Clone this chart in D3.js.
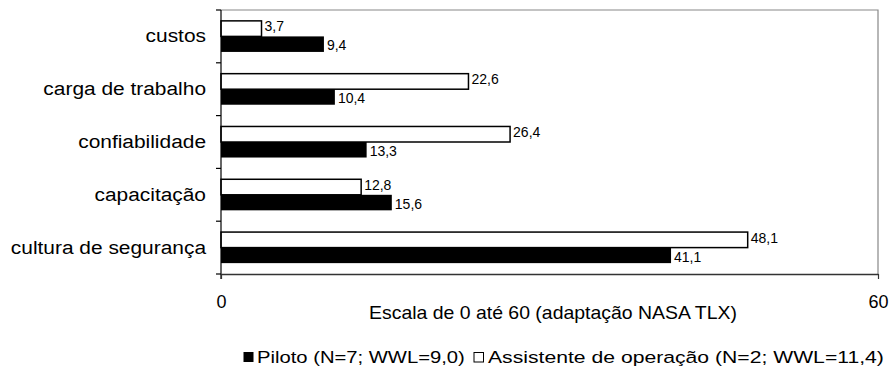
<!DOCTYPE html>
<html>
<head>
<meta charset="utf-8">
<script src="https://cdn.jsdelivr.net/npm/d3@7"></script>
<style>
  html, body { margin: 0; padding: 0; background: #fff; }
  svg { display: block; font-family: "Liberation Sans", Arial, sans-serif; }
</style>
</head>
<body>
<svg id="chart" width="893" height="373"></svg>
<script>
// Dimensions of the workload assessment (NASA TLX adaptation)
const categories = ["custos", "carga de trabalho", "confiabilidade", "capacitação", "cultura de segurança"];
const piloto = [9.4, 10.4, 13.3, 15.6, 41.1];
const assistente = [3.7, 22.6, 26.4, 12.8, 48.1];
const seriesNames = ["Piloto (N=7; WWL=9,0)", "Assistente de operação (N=2; WWL=11,4)"];
const xDomain = [0, 60];
const xTickValues = [0, 60];
const xAxisTitle = "Escala de 0 até 60 (adaptação NASA TLX)";

const svg = d3.select("#chart");
const plot = { left: 221, right: 878, top: 10, bottom: 274 };

// widen a text element horizontally around its anchor point
function stretch(sel, ax, ay, k) {
  sel.attr("transform", `translate(${ax},${ay}) scale(${k},1) translate(${-ax},${-ay})`);
}

const x = d3.scaleLinear().domain(xDomain).range([plot.left, plot.right]);
const y = d3.scaleBand().domain(categories).range([plot.top, plot.bottom]);
const sub = d3.scaleBand().domain(["assistente", "piloto"])
  .range([0, y.bandwidth()]).paddingInner(0).paddingOuter(0.7);

const ptLocale = d3.formatLocale({ decimal: ",", thousands: ".", grouping: [3], currency: ["R$", ""] });
const fmt = ptLocale.format(".1f");

const rows = categories.map((c, i) => ({ cat: c, piloto: piloto[i], assistente: assistente[i] }));

// plot-area frame (top and right edges)
svg.append("path")
  .attr("d", `M${plot.left},${plot.top}H${plot.right}V${plot.bottom}`)
  .attr("fill", "none").attr("stroke", "#888").attr("stroke-width", 1.2);

// bars and value labels
const g = svg.append("g");
rows.forEach(r => {
  const y0 = y(r.cat);
  g.append("rect")
    .attr("x", x(0)).attr("y", y0 + sub("assistente"))
    .attr("width", x(r.assistente) - x(0)).attr("height", sub.bandwidth())
    .attr("fill", "#fff").attr("stroke", "#000").attr("stroke-width", 1.5);
  g.append("rect")
    .attr("x", x(0)).attr("y", y0 + sub("piloto"))
    .attr("width", x(r.piloto) - x(0)).attr("height", sub.bandwidth())
    .attr("fill", "#000");
  g.append("text")
    .attr("x", x(r.assistente) + 3).attr("y", y0 + sub("assistente") + sub.bandwidth() / 2)
    .attr("dy", "0.2em").attr("font-size", 14).attr("fill", "#000")
    .text(fmt(r.assistente));
  g.append("text")
    .attr("x", x(r.piloto) + 3).attr("y", y0 + sub("piloto") + sub.bandwidth() / 2)
    .attr("dy", "0.45em").attr("font-size", 14).attr("fill", "#000")
    .text(fmt(r.piloto));
});

// category axis
const yAxis = svg.append("g").attr("transform", `translate(${plot.left},0)`)
  .call(d3.axisLeft(y).tickSize(0).tickPadding(15));
yAxis.select(".domain").remove();
yAxis.selectAll("text").attr("font-size", 19).attr("fill", "#000")
  .attr("font-family", "'Liberation Sans', Arial, sans-serif")
  .call(stretch, -15, 0, 1.1);
svg.append("line").attr("x1", plot.left).attr("x2", plot.left)
  .attr("y1", plot.top).attr("y2", plot.bottom + 5).attr("stroke", "#000").attr("stroke-width", 1.2);
const boundaries = categories.map(c => y(c)).concat([plot.bottom]);
svg.selectAll(".ytick").data(boundaries).join("line")
  .attr("x1", plot.left - 5).attr("x2", plot.left)
  .attr("y1", d => d).attr("y2", d => d)
  .attr("stroke", "#000").attr("stroke-width", 1.2);

// value axis
const xAxis = svg.append("g").attr("transform", `translate(0,${plot.bottom})`)
  .call(d3.axisBottom(x).tickValues(xTickValues).tickSize(5).tickPadding(16).tickSizeOuter(0));
xAxis.select(".domain").attr("stroke", "#333").attr("stroke-width", 1.4);
xAxis.selectAll(".tick line").attr("stroke", "#333").attr("stroke-width", 1.2);
xAxis.selectAll("text").attr("font-size", 18).attr("fill", "#000")
  .attr("font-family", "'Liberation Sans', Arial, sans-serif");

svg.append("text")
  .attr("x", 553).attr("y", 319)
  .attr("text-anchor", "middle").attr("font-size", 18).attr("fill", "#000")
  .text(xAxisTitle)
  .call(stretch, 553, 319, 1.08);

// legend
const legend = svg.append("g").attr("transform", "translate(243,357)");
legend.append("rect").attr("x", 0.5).attr("y", -5).attr("width", 10).attr("height", 10).attr("fill", "#000");
legend.append("text").attr("x", 14).attr("y", 0).attr("dy", "0.35em")
  .attr("font-size", 17).attr("fill", "#000")
  .text(seriesNames[0])
  .call(stretch, 14, 0, 1.19);
legend.append("rect").attr("x", 231).attr("y", -4.5).attr("width", 9.5).attr("height", 9.5)
  .attr("fill", "#fff").attr("stroke", "#000").attr("stroke-width", 1);
legend.append("text").attr("x", 245).attr("y", 0).attr("dy", "0.35em")
  .attr("font-size", 17).attr("fill", "#000")
  .text(seriesNames[1])
  .call(stretch, 245, 0, 1.245);
</script>
</body>
</html>
